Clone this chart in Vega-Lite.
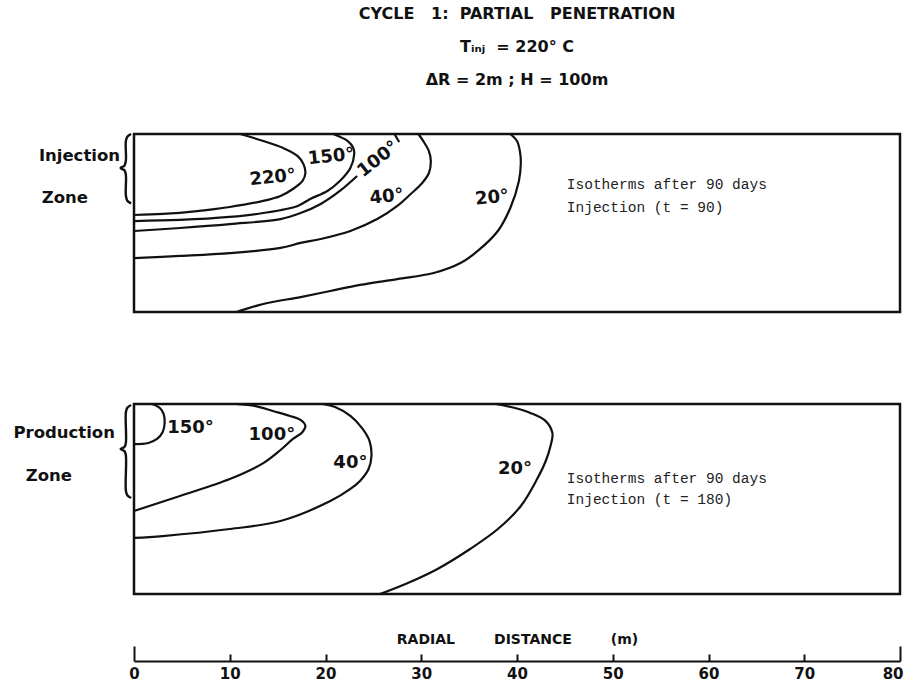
{
  "$schema": "https://vega.github.io/schema/vega-lite/v6.json",
  "background": "white",
  "padding": {"left": 12, "top": 5, "right": 2, "bottom": 2},
  "bounds": "flush",
  "spacing": 92,
  "title": {
    "text": ["CYCLE\u00a0\u00a0\u00a01:\u00a0\u00a0PARTIAL\u00a0\u00a0\u00a0PENETRATION", "Tᵢₙⱼ\u00a0\u00a0=\u00a0220°\u00a0C", "ΔR = 2m ; H = 100m"],
    "font": "DejaVu Sans", "fontSize": 16, "fontWeight": "bold", "lineHeight": 33,
    "anchor": "middle", "frame": "group", "offset": 40, "color": "#111"
  },
  "datasets": {
    "topCurves": [
      {"c": "220", "i": 0, "x": 11.1, "y": 0}, {"c": "220", "i": 1, "x": 13.5, "y": 3.9}, {"c": "220", "i": 2, "x": 15.6, "y": 7.9}, {"c": "220", "i": 3, "x": 17.1, "y": 12.4}, {"c": "220", "i": 4, "x": 17.7, "y": 16.9}, {"c": "220", "i": 5, "x": 17.9, "y": 21.9}, {"c": "220", "i": 6, "x": 17.6, "y": 26.4}, {"c": "220", "i": 7, "x": 16.6, "y": 30.9}, {"c": "220", "i": 8, "x": 15.3, "y": 34.8}, {"c": "220", "i": 9, "x": 13.5, "y": 37.6}, {"c": "220", "i": 10, "x": 10.0, "y": 41.0}, {"c": "220", "i": 11, "x": 6.6, "y": 43.3}, {"c": "220", "i": 12, "x": 3.0, "y": 44.9}, {"c": "220", "i": 13, "x": 0, "y": 45.5},
      {"c": "150", "i": 0, "x": 20.8, "y": 0}, {"c": "150", "i": 1, "x": 22.3, "y": 3.9}, {"c": "150", "i": 2, "x": 22.9, "y": 7.9}, {"c": "150", "i": 3, "x": 23.0, "y": 11.2}, {"c": "150", "i": 4, "x": 22.6, "y": 19.1}, {"c": "150", "i": 5, "x": 21.5, "y": 26.4}, {"c": "150", "i": 6, "x": 20.2, "y": 32.0}, {"c": "150", "i": 7, "x": 18.4, "y": 36.5}, {"c": "150", "i": 8, "x": 17.1, "y": 40.4}, {"c": "150", "i": 9, "x": 13.5, "y": 44.4}, {"c": "150", "i": 10, "x": 10.0, "y": 46.6}, {"c": "150", "i": 11, "x": 4.8, "y": 48.3}, {"c": "150", "i": 12, "x": 0, "y": 48.9},
      {"c": "100a", "i": 0, "x": 27.2, "y": 0}, {"c": "100a", "i": 1, "x": 27.7, "y": 4.5},
      {"c": "100b", "i": 0, "x": 23.3, "y": 23.6}, {"c": "100b", "i": 1, "x": 21.5, "y": 32.0}, {"c": "100b", "i": 2, "x": 19.5, "y": 39.3}, {"c": "100b", "i": 3, "x": 17.4, "y": 44.4}, {"c": "100b", "i": 4, "x": 15.3, "y": 47.8}, {"c": "100b", "i": 5, "x": 10.0, "y": 50.6}, {"c": "100b", "i": 6, "x": 4.8, "y": 52.8}, {"c": "100b", "i": 7, "x": 0, "y": 54.5},
      {"c": "40", "i": 0, "x": 29.7, "y": 0}, {"c": "40", "i": 1, "x": 30.2, "y": 3.9}, {"c": "40", "i": 2, "x": 30.8, "y": 9.6}, {"c": "40", "i": 3, "x": 31.0, "y": 15.2}, {"c": "40", "i": 4, "x": 30.8, "y": 21.9}, {"c": "40", "i": 5, "x": 30.1, "y": 27.5}, {"c": "40", "i": 6, "x": 28.9, "y": 33.7}, {"c": "40", "i": 7, "x": 27.5, "y": 40.4}, {"c": "40", "i": 8, "x": 25.4, "y": 47.8}, {"c": "40", "i": 9, "x": 22.6, "y": 54.5}, {"c": "40", "i": 10, "x": 19.5, "y": 59.0}, {"c": "40", "i": 11, "x": 17.4, "y": 61.2}, {"c": "40", "i": 12, "x": 15.3, "y": 64.0}, {"c": "40", "i": 13, "x": 10.0, "y": 66.9}, {"c": "40", "i": 14, "x": 4.8, "y": 68.5}, {"c": "40", "i": 15, "x": 0, "y": 69.7},
      {"c": "20", "i": 0, "x": 39.3, "y": 0}, {"c": "20", "i": 1, "x": 40.0, "y": 3.9}, {"c": "20", "i": 2, "x": 40.3, "y": 9.6}, {"c": "20", "i": 3, "x": 40.4, "y": 16.3}, {"c": "20", "i": 4, "x": 40.2, "y": 26.4}, {"c": "20", "i": 5, "x": 39.3, "y": 41.6}, {"c": "20", "i": 6, "x": 38.0, "y": 54.5}, {"c": "20", "i": 7, "x": 35.9, "y": 65.7}, {"c": "20", "i": 8, "x": 34.1, "y": 72.5}, {"c": "20", "i": 9, "x": 31.3, "y": 78.1}, {"c": "20", "i": 10, "x": 27.5, "y": 81.5}, {"c": "20", "i": 11, "x": 23.6, "y": 84.8}, {"c": "20", "i": 12, "x": 20.5, "y": 88.2}, {"c": "20", "i": 13, "x": 17.4, "y": 91.6}, {"c": "20", "i": 14, "x": 13.5, "y": 95.5}, {"c": "20", "i": 15, "x": 10.7, "y": 100}
    ],
    "topBrace": [
      {"i": 0, "x": -0.3, "y": 0}, {"i": 1, "x": -0.7, "y": 1.5}, {"i": 2, "x": -0.85, "y": 4}, {"i": 3, "x": -0.85, "y": 15}, {"i": 4, "x": -1.0, "y": 17.8}, {"i": 5, "x": -1.4, "y": 19.1}, {"i": 6, "x": -1.0, "y": 20.4}, {"i": 7, "x": -0.85, "y": 23}, {"i": 8, "x": -0.85, "y": 34.5}, {"i": 9, "x": -0.7, "y": 37.5}, {"i": 10, "x": -0.3, "y": 39}
    ],
    "topLabels": [
      {"t": "220°", "x": 14.5, "y": 24.7}, {"t": "150°", "x": 20.6, "y": 12.9}, {"t": "40°", "x": 26.4, "y": 35.4}, {"t": "20°", "x": 37.4, "y": 36.0}
    ],
    "topLabelTilted": [
      {"t": "100°", "x": 25.5, "y": 14.3}
    ],
    "topNotes": [
      {"t": "Isotherms after 90 days", "x": 45.2, "y": 28.7}, {"t": "Injection (t = 90)", "x": 45.2, "y": 41.6}
    ],
    "topSide": [
      {"t": "Injection", "x": -1.46, "y": 12.4}, {"t": "Zone", "x": -4.81, "y": 36.0}
    ],
    "bottomCurves": [
      {"c": "150", "i": 0, "x": 1.9, "y": 0}, {"c": "150", "i": 1, "x": 2.7, "y": 2.1}, {"c": "150", "i": 2, "x": 3.1, "y": 5.3}, {"c": "150", "i": 3, "x": 3.2, "y": 10.0}, {"c": "150", "i": 4, "x": 3.0, "y": 14.7}, {"c": "150", "i": 5, "x": 2.4, "y": 18.4}, {"c": "150", "i": 6, "x": 1.5, "y": 20.5}, {"c": "150", "i": 7, "x": 0, "y": 21.1},
      {"c": "100", "i": 0, "x": 10.6, "y": 0}, {"c": "100", "i": 1, "x": 12.7, "y": 1.1}, {"c": "100", "i": 2, "x": 14.5, "y": 3.7}, {"c": "100", "i": 3, "x": 16.3, "y": 6.3}, {"c": "100", "i": 4, "x": 17.4, "y": 8.4}, {"c": "100", "i": 5, "x": 17.9, "y": 11.6}, {"c": "100", "i": 6, "x": 17.6, "y": 14.7}, {"c": "100", "i": 7, "x": 16.6, "y": 18.4}, {"c": "100", "i": 8, "x": 15.3, "y": 24.2}, {"c": "100", "i": 9, "x": 13.5, "y": 31.1}, {"c": "100", "i": 10, "x": 10.0, "y": 39.5}, {"c": "100", "i": 11, "x": 4.8, "y": 48.4}, {"c": "100", "i": 12, "x": 0, "y": 56.3},
      {"c": "40", "i": 0, "x": 19.7, "y": 0}, {"c": "40", "i": 1, "x": 21.0, "y": 1.6}, {"c": "40", "i": 2, "x": 22.6, "y": 6.3}, {"c": "40", "i": 3, "x": 23.8, "y": 12.6}, {"c": "40", "i": 4, "x": 24.6, "y": 19.5}, {"c": "40", "i": 5, "x": 24.8, "y": 27.4}, {"c": "40", "i": 6, "x": 24.5, "y": 34.2}, {"c": "40", "i": 7, "x": 23.6, "y": 40.5}, {"c": "40", "i": 8, "x": 22.6, "y": 44.7}, {"c": "40", "i": 9, "x": 20.5, "y": 51.1}, {"c": "40", "i": 10, "x": 15.3, "y": 61.6}, {"c": "40", "i": 11, "x": 10.0, "y": 65.8}, {"c": "40", "i": 12, "x": 3.0, "y": 69.5}, {"c": "40", "i": 13, "x": 0, "y": 70.5},
      {"c": "20", "i": 0, "x": 37.8, "y": 0}, {"c": "20", "i": 1, "x": 39.8, "y": 2.1}, {"c": "20", "i": 2, "x": 41.4, "y": 4.7}, {"c": "20", "i": 3, "x": 43.0, "y": 9.0}, {"c": "20", "i": 4, "x": 43.7, "y": 15.3}, {"c": "20", "i": 5, "x": 43.5, "y": 22.1}, {"c": "20", "i": 6, "x": 43.0, "y": 30.0}, {"c": "20", "i": 7, "x": 42.1, "y": 39.5}, {"c": "20", "i": 8, "x": 40.4, "y": 53.7}, {"c": "20", "i": 9, "x": 38.0, "y": 65.8}, {"c": "20", "i": 10, "x": 35.1, "y": 76.3}, {"c": "20", "i": 11, "x": 31.7, "y": 86.8}, {"c": "20", "i": 12, "x": 28.6, "y": 94.2}, {"c": "20", "i": 13, "x": 25.7, "y": 100}
    ],
    "bottomBrace": [
      {"i": 0, "x": -0.3, "y": 0.5}, {"i": 1, "x": -0.7, "y": 2}, {"i": 2, "x": -0.85, "y": 4.5}, {"i": 3, "x": -0.85, "y": 20.5}, {"i": 4, "x": -1.0, "y": 22.6}, {"i": 5, "x": -1.4, "y": 23.7}, {"i": 6, "x": -1.0, "y": 24.8}, {"i": 7, "x": -0.85, "y": 27}, {"i": 8, "x": -0.85, "y": 45.5}, {"i": 9, "x": -0.7, "y": 48}, {"i": 10, "x": -0.3, "y": 49.5}
    ],
    "bottomLabels": [
      {"t": "150°", "x": 5.9, "y": 12.6}, {"t": "100°", "x": 14.4, "y": 16.3}, {"t": "40°", "x": 22.6, "y": 31.1}, {"t": "20°", "x": 39.8, "y": 34.2}
    ],
    "bottomNotes": [
      {"t": "Isotherms after 90 days", "x": 45.2, "y": 39.5}, {"t": "Injection (t = 180)", "x": 45.2, "y": 50.5}
    ],
    "bottomSide": [
      {"t": "Production", "x": -1.99, "y": 15.3}, {"t": "Zone", "x": -6.48, "y": 37.9}
    ]
  },
  "vconcat": [
    {
      "width": 766,
      "height": 178,
      "encoding": {
        "x": {"field": "x", "type": "quantitative", "scale": {"domain": [0, 80], "nice": false}, "axis": null},
        "y": {"field": "y", "type": "quantitative", "scale": {"domain": [0, 100], "nice": false, "reverse": true}, "axis": null}
      },
      "layer": [
        {"data": {"name": "topCurves"}, "mark": {"type": "line", "interpolate": "catmull-rom", "stroke": "#111", "strokeWidth": 2.2}, "encoding": {"detail": {"field": "c"}, "order": {"field": "i"}}},
        {"data": {"name": "topBrace"}, "mark": {"type": "line", "interpolate": "catmull-rom", "stroke": "#111", "strokeWidth": 2.4}, "encoding": {"order": {"field": "i"}}},
        {"data": {"name": "topLabels"}, "mark": {"type": "text", "font": "DejaVu Sans", "fontWeight": "bold", "fontSize": 18, "angle": -6, "color": "#111", "baseline": "middle"}, "encoding": {"text": {"field": "t"}}},
        {"data": {"name": "topLabelTilted"}, "mark": {"type": "text", "font": "DejaVu Sans", "fontWeight": "bold", "fontSize": 18, "angle": -38, "color": "#111", "baseline": "middle"}, "encoding": {"text": {"field": "t"}}},
        {"data": {"name": "topNotes"}, "mark": {"type": "text", "font": "Liberation Mono", "fontSize": 14.5, "align": "left", "baseline": "middle", "color": "#222"}, "encoding": {"text": {"field": "t"}}},
        {"data": {"name": "topSide"}, "mark": {"type": "text", "font": "DejaVu Sans", "fontWeight": "bold", "fontSize": 16.5, "align": "right", "baseline": "middle", "color": "#111"}, "encoding": {"text": {"field": "t"}}}
      ]
    },
    {
      "width": 766,
      "height": 190,
      "encoding": {
        "x": {
          "field": "x", "type": "quantitative", "scale": {"domain": [0, 80], "nice": false},
          "axis": {
            "orient": "bottom", "offset": 67, "values": [0, 10, 20, 30, 40, 50, 60, 70, 80], "grid": false,
            "domainColor": "#111", "domainWidth": 2, "tickColor": "#111", "tickWidth": 2,
            "tickSize": {"condition": {"test": "datum.value === 0 || datum.value === 80", "value": -15}, "value": -7},
            "labelPadding": {"condition": {"test": "datum.value === 0 || datum.value === 80", "value": 20}, "value": 12},
            "labelAlign": {"condition": {"test": "datum.value === 80", "value": "right"}, "value": "center"},
            "labelOffset": {"condition": {"test": "datum.value === 80", "value": 3}, "value": 0},
            "labelFont": "DejaVu Sans", "labelFontWeight": "bold", "labelFontSize": 15, "labelColor": "#111", "labelFlush": false,
            "title": "RADIAL\u00a0\u00a0\u00a0\u00a0\u00a0\u00a0\u00a0\u00a0DISTANCE\u00a0\u00a0\u00a0\u00a0\u00a0\u00a0\u00a0\u00a0(m)", "titleY": -22, "titleBaseline": "middle",
            "titleFont": "DejaVu Sans", "titleFontWeight": "bold", "titleFontSize": 14, "titleColor": "#111"
          }
        },
        "y": {"field": "y", "type": "quantitative", "scale": {"domain": [0, 100], "nice": false, "reverse": true}, "axis": null}
      },
      "layer": [
        {"data": {"name": "bottomCurves"}, "mark": {"type": "line", "interpolate": "catmull-rom", "stroke": "#111", "strokeWidth": 2.2}, "encoding": {"detail": {"field": "c"}, "order": {"field": "i"}}},
        {"data": {"name": "bottomBrace"}, "mark": {"type": "line", "interpolate": "catmull-rom", "stroke": "#111", "strokeWidth": 2.4}, "encoding": {"order": {"field": "i"}}},
        {"data": {"name": "bottomLabels"}, "mark": {"type": "text", "font": "DejaVu Sans", "fontWeight": "bold", "fontSize": 18, "color": "#111", "baseline": "middle"}, "encoding": {"text": {"field": "t"}}},
        {"data": {"name": "bottomNotes"}, "mark": {"type": "text", "font": "Liberation Mono", "fontSize": 14.5, "align": "left", "baseline": "middle", "color": "#222"}, "encoding": {"text": {"field": "t"}}},
        {"data": {"name": "bottomSide"}, "mark": {"type": "text", "font": "DejaVu Sans", "fontWeight": "bold", "fontSize": 16.5, "align": "right", "baseline": "middle", "color": "#111"}, "encoding": {"text": {"field": "t"}}}
      ]
    }
  ],
  "config": {
    "view": {"stroke": "#111", "strokeWidth": 2.5},
    "axis": {"grid": false}
  }
}
